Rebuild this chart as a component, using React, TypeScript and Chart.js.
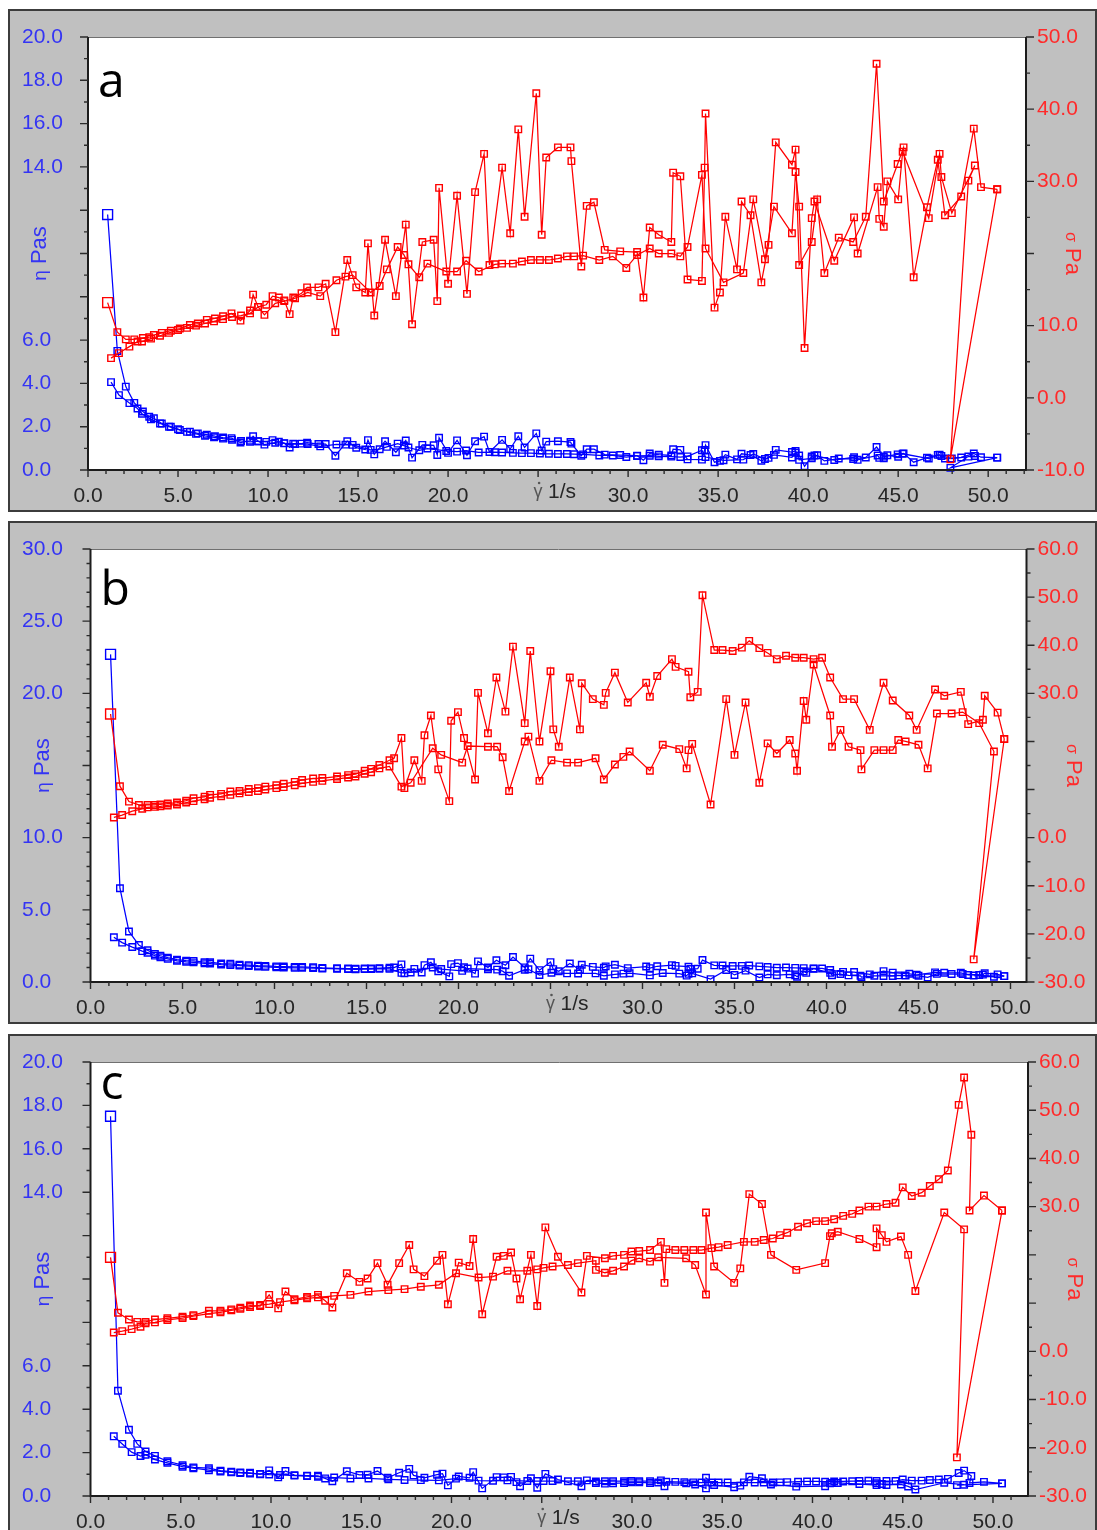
import React, { useEffect, useRef } from 'react';
import { Chart, registerables } from 'chart.js';
Chart.register(...registerables);

// ---------------- Panel a ----------------
const A_UP_X = [1.09,1.63,2.1,2.57,3.05,3.4,3.66,4.1,4.6,5.1, 5.66,6.1,6.6,7.05,7.5,7.97,8.47,9.0,9.17,9.45, 9.9,10.25,10.6,10.9,11.2,11.4,11.86,12.17,12.8,13.2, 13.74,14.4,14.9,15.4,15.55,15.9,16.5,17.1,17.65,18.0, 18.57,19.2,19.4,19.5,20.0,20.5,21.05,21.5,22.0,22.3, 23.0,23.45,23.9,24.25,24.9,25.2,25.45,26.1,26.8,26.85, 27.4,27.7,28.1,28.7,29.56,30.5,30.85,31.2,31.7,32.4, 32.5,32.9,33.3,34.1,34.25,34.3,34.8,35.1,35.4,36.05, 36.3,36.8,37.4,37.8,38.2,39.1,39.3,39.5,40.2,40.5, 40.9,41.7,42.5,43.2,43.8,44.2,44.97,45.3,45.86,46.6, 47.2,47.6,48.5,49.2,49.6,50.5];
const A_UP_SIGMA = [13.2,9.1,8.1,8.1,8.3,8.4,8.7,9.0,9.3,9.6, 10.1,10.3,10.8,11.0,11.3,11.7,10.7,12.1,14.3,12.6, 12.9,14.1,13.9,13.5,11.6,13.9,14.5,15.3,15.3,15.8, 9.1,19.1,15.3,14.6,21.4,11.4,21.9,14.1,24.0,10.2, 21.6,21.9,13.4,29.1,15.8,28.0,14.4,28.5,33.8,18.4, 31.9,22.8,37.2,25.1,42.2,22.6,33.3,34.7,34.7,32.8, 18.2,26.6,27.1,20.5,20.3,20.2,13.9,23.6,22.6,21.6, 31.2,30.7,16.4,16.2,31.9,39.4,12.5,14.6,25.1,17.8, 27.2,25.3,16.0,21.2,35.4,32.3,34.4,18.4,21.6,27.5, 17.3,22.2,21.6,25.1,46.3,27.2,32.4,34.7,16.7,26.4, 33.0,25.3,27.9,37.3,29.2,28.9];
const A_UP_ETA = [11.8,5.5,3.85,3.1,2.7,2.46,2.39,2.15,2.0,1.85, 1.77,1.69,1.63,1.56,1.5,1.47,1.27,1.35,1.56,1.33, 1.3,1.38,1.31,1.24,1.04,1.22,1.22,1.26,1.2,1.2, 0.66,1.33,1.03,0.95,1.38,0.72,1.33,0.82,1.36,0.57, 1.16,1.14,0.69,1.49,0.79,1.37,0.68,1.33,1.54,0.83, 1.39,0.97,1.56,1.04,1.69,0.9,1.31,1.33,1.29,1.22, 0.66,0.96,0.96,0.71,0.69,0.66,0.45,0.76,0.71,0.67, 0.96,0.93,0.49,0.48,0.93,1.15,0.36,0.42,0.71,0.49, 0.75,0.69,0.43,0.56,0.93,0.83,0.88,0.47,0.54,0.68, 0.42,0.53,0.51,0.58,1.06,0.62,0.72,0.77,0.36,0.57, 0.7,0.53,0.58,0.76,0.59,0.57];
const A_DN_X = [50.5,47.9,48.9,49.26,47.98,47.4,47.3,46.7,45.25,45.0, 44.4,44.2,43.95,43.86,42.75,42.55,41.45,40.35,40.2,39.8, 39.5,39.3,39.1,38.1,37.6,36.95,36.4,35.3,34.3,34.1, 33.3,32.9,32.4,31.7,31.2,30.5,29.9,29.15,28.4,27.5, 27.0,26.6,26.1,25.6,25.1,24.6,24.1,23.6,23.0,22.6, 21.7,21.0,20.5,19.9,18.85,18.4,17.8,17.55,17.2,16.6, 16.2,15.7,14.7,14.3,13.8,12.9,12.2,11.5,10.9,10.4, 9.8,9.45,9.0,8.5,8.0,7.5,7.0,6.5,6.0,5.5, 5.0,4.5,4.0,3.5,3.0,2.75,2.3,1.72,1.28];
const A_DN_SIGMA = [28.9,-8.5,30.1,32.2,25.6,30.6,33.8,24.9,34.1,27.5, 30.0,23.7,24.8,29.2,20.0,25.0,19.0,27.2,24.9,6.9, 26.5,31.3,22.8,26.5,19.2,27.5,17.3,16.0,20.7,30.9, 20.9,19.6,20.0,20.0,20.7,19.8,18.0,19.6,19.1,19.7, 19.6,19.6,19.3,19.1,19.1,19.1,18.9,18.6,18.6,18.5, 17.5,19.0,17.5,17.5,18.6,16.7,18.5,19.8,20.9,17.8, 15.5,14.6,17.0,16.8,16.3,14.1,14.6,13.8,13.4,13.1, 11.5,12.6,11.7,11.4,11.2,10.9,10.6,10.3,10.0,9.7, 9.4,9.0,8.6,8.2,7.8,7.8,7.1,6.2,5.5];
const A_DN_ETA = [0.57,0.1,0.62,0.65,0.53,0.65,0.71,0.53,0.75,0.61, 0.68,0.54,0.56,0.67,0.47,0.59,0.46,0.67,0.62,0.17, 0.67,0.8,0.58,0.7,0.51,0.74,0.48,0.45,0.6,0.91, 0.63,0.6,0.62,0.63,0.66,0.65,0.6,0.67,0.67,0.72, 0.73,0.74,0.74,0.75,0.76,0.78,0.78,0.79,0.81,0.82, 0.81,0.9,0.85,0.88,0.99,0.91,1.04,1.13,1.22,1.07, 0.96,0.93,1.16,1.17,1.18,1.09,1.2,1.2,1.23,1.26, 1.17,1.33,1.3,1.34,1.4,1.45,1.51,1.58,1.67,1.76, 1.88,2.0,2.15,2.34,2.6,2.84,3.09,3.46,4.06];

// ---------------- Panel b ----------------
const B_UP_X = [1.09,1.6,2.09,2.63,3.1,3.5,3.8,4.2,4.7,5.2, 5.6,6.2,6.5,7.1,7.6,8.1,8.6,9.1,9.5,10.1, 10.5,11.1,11.5,12.1,12.6,13.4,14.0,14.4,14.9,15.25, 15.7,16.25,16.5,16.9,17.06,17.6,18.0,18.15,18.5,18.9, 19.5,19.6,19.97,20.3,20.9,21.06,21.6,22.06,22.55,22.96, 23.6,23.9,24.4,25.0,25.15,25.45,26.05,26.6,26.7,27.3, 27.9,28.0,28.5,29.2,30.2,30.4,30.8,31.6,31.8,32.5, 32.6,33.0,33.26,33.9,34.35,34.9,35.4,35.8,36.35,36.8, 37.3,37.8,38.3,38.76,39.3,39.76,40.2,40.9,41.5,42.35, 43.1,43.6,44.5,44.9,45.9,46.4,47.3,47.7,48.5,48.6, 49.3,49.66];
const B_UP_SIGMA = [25.7,10.7,7.5,6.8,6.8,6.8,6.9,7.1,7.3,7.7, 8.2,8.5,8.9,9.1,9.6,9.7,10.1,10.3,10.6,10.9, 11.2,11.6,12.0,12.3,12.4,12.7,13.0,13.2,13.9,14.3, 15.1,16.1,16.5,20.7,10.3,16.1,11.8,21.3,25.4,14.2, 7.6,24.3,26.1,20.7,12.1,30.1,21.7,33.3,26.2,39.7, 23.8,38.8,20.0,34.6,22.5,18.9,33.3,22.5,32.1,28.8, 27.6,30.1,34.3,28.1,32.2,29.3,33.6,37.1,35.5,34.5, 29.2,30.3,50.4,39.0,39.0,38.8,39.5,40.9,39.4,38.4, 37.1,37.8,37.4,37.4,37.1,37.4,33.3,28.8,28.8,22.4, 32.2,28.5,25.4,22.4,30.8,29.5,30.3,23.6,24.5,29.5, 26.0,20.5];
const B_UP_ETA = [22.7,6.5,3.5,2.56,2.2,1.94,1.82,1.69,1.55,1.48, 1.46,1.37,1.37,1.28,1.26,1.2,1.17,1.13,1.12,1.08, 1.07,1.05,1.04,1.02,0.98,0.95,0.93,0.92,0.93,0.94, 0.96,0.99,1.0,1.22,0.6,0.91,0.66,1.17,1.37,0.75, 0.39,1.24,1.31,1.02,0.58,1.43,1.0,1.51,1.16,1.73, 1.01,1.62,0.82,1.38,0.89,0.74,1.28,0.85,1.2,1.05, 0.99,1.08,1.2,0.96,1.07,0.96,1.09,1.17,1.12,1.06, 0.9,0.92,1.52,1.15,1.14,1.11,1.12,1.14,1.08,1.04, 0.99,1.0,0.98,0.96,0.94,0.94,0.83,0.7,0.69,0.53, 0.75,0.65,0.57,0.5,0.67,0.64,0.64,0.49,0.51,0.61, 0.53,0.41];
const B_DN_X = [49.66,48.0,49.1,48.3,47.4,46.8,46.0,45.5,45.0,44.3, 43.9,43.6,43.1,42.6,41.9,41.85,41.2,40.76,40.3,40.2, 39.3,38.9,38.76,38.4,38.3,38.0,37.3,36.8,36.35,35.6, 35.0,34.55,33.7,32.7,32.5,32.4,32.0,31.1,30.4,29.3, 28.96,28.5,27.9,27.45,26.5,25.9,25.05,24.4,23.8,23.6, 22.75,22.4,22.1,21.6,20.5,20.2,19.06,18.6,17.4,16.9, 16.25,15.7,15.25,14.9,14.4,14.0,13.4,12.6,12.1,11.5, 11.1,10.5,10.1,9.5,9.1,8.6,8.1,7.6,7.1,6.5, 6.2,5.6,5.2,4.7,4.2,3.8,3.5,3.1,2.81,2.27, 1.72,1.27];
const B_DN_SIGMA = [20.5,-25.3,17.9,23.8,26.1,25.8,25.8,14.4,19.3,20.0, 20.3,18.2,18.2,18.2,14.2,18.2,18.9,22.4,18.9,25.4, 36.0,24.5,28.4,13.9,17.5,20.3,17.5,19.6,11.4,28.1, 17.2,28.8,6.9,19.5,18.2,14.4,18.4,19.3,13.9,17.9, 16.8,15.2,12.1,16.5,15.6,15.6,16.1,11.8,21.0,20.0, 9.7,16.7,18.9,18.9,19.05,15.6,17.2,18.6,11.4,10.6, 14.8,14.4,13.6,13.3,12.7,12.5,12.2,11.8,11.6,11.3, 10.9,10.5,10.3,10.0,9.7,9.5,9.2,8.9,8.6,8.3, 8.0,7.6,7.3,6.9,6.7,6.5,6.4,6.3,6.0,5.5, 4.7,4.2];
const B_DN_ETA = [0.41,0.45,0.36,0.49,0.55,0.55,0.56,0.32,0.43,0.45, 0.46,0.42,0.42,0.43,0.34,0.43,0.46,0.55,0.47,0.63, 0.92,0.63,0.73,0.36,0.46,0.53,0.47,0.53,0.31,0.79, 0.49,0.83,0.2,0.6,0.56,0.44,0.58,0.62,0.46,0.61, 0.58,0.53,0.43,0.6,0.59,0.6,0.64,0.48,0.88,0.85, 0.43,0.75,0.86,0.88,0.93,0.77,0.9,1.0,0.66,0.63, 0.91,0.92,0.89,0.89,0.88,0.89,0.91,0.94,0.96,0.98, 0.98,1.0,1.02,1.05,1.07,1.1,1.14,1.17,1.21,1.28, 1.29,1.36,1.4,1.47,1.6,1.71,1.83,2.03,2.14,2.42, 2.73,3.1];

// ---------------- Panel c ----------------
const C_UP_X = [1.11,1.52,2.13,2.59,3.05,3.57,4.26,5.1,5.7,6.56, 7.2,7.8,8.3,8.84,9.4,9.9,10.4,10.8,11.3,12.0, 12.6,13.0,13.4,14.2,14.9,15.35,15.9,16.46,17.1,17.66, 17.9,18.5,19.2,19.5,19.8,20.4,21.0,21.2,21.7,22.5, 22.9,23.3,23.6,23.8,24.4,24.75,25.2,25.9,27.2,27.5, 28.5,28.95,29.56,29.97,30.4,31.0,31.6,31.8,31.9,32.4, 32.9,33.4,33.85,34.4,34.8,35.3,36.2,36.8,37.3,37.8, 38.2,38.6,39.2,39.7,40.2,40.7,41.2,41.7,42.2,42.6, 43.1,43.55,44.1,44.6,45.0,45.5,46.05,46.5,47.0,47.5, 48.1,48.4,48.8,48.7,49.5,50.5];
const C_UP_SIGMA = [19.5,8.0,6.6,6.1,6.1,6.6,6.85,7.2,7.5,8.4, 8.4,8.7,9.05,9.5,9.4,11.7,8.9,12.4,10.8,11.3, 11.7,10.5,9.1,16.2,14.4,15.1,18.3,13.8,18.3,22.05, 17.0,15.6,18.8,20.0,9.75,18.4,17.7,23.3,7.7,19.6, 19.8,20.5,15.1,10.8,20.0,9.4,25.7,19.6,12.2,19.8, 19.3,19.8,20.0,20.7,20.8,21.0,22.7,14.2,21.2,21.0, 21.0,21.0,21.0,21.4,21.6,22.05,22.7,22.7,23.1,23.4, 24.1,24.6,25.85,26.55,27.0,27.0,27.4,28.1,28.5,29.2, 30.0,30.0,30.55,30.8,34.0,32.2,32.9,34.3,35.7,37.5, 51.1,56.8,44.9,29.2,32.3,29.2];
const C_UP_ETA = [17.5,4.85,3.05,2.4,2.05,1.85,1.6,1.42,1.32,1.28, 1.17,1.12,1.09,1.07,1.0,1.18,0.86,1.15,0.96,0.94, 0.93,0.81,0.68,1.14,0.97,0.98,1.15,0.84,1.07,1.25, 0.95,0.84,0.98,1.03,0.49,0.9,0.84,1.1,0.35,0.87, 0.86,0.88,0.64,0.45,0.82,0.38,1.02,0.76,0.45,0.72, 0.68,0.68,0.68,0.69,0.68,0.68,0.72,0.45,0.66,0.65, 0.64,0.63,0.62,0.62,0.62,0.62,0.63,0.62,0.62,0.62, 0.63,0.64,0.66,0.67,0.67,0.66,0.67,0.67,0.68,0.69, 0.7,0.69,0.69,0.69,0.76,0.71,0.71,0.74,0.76,0.79, 1.06,1.17,0.92,0.6,0.65,0.58];
const C_DN_X = [50.5,48.0,48.4,47.3,45.7,45.3,44.9,44.1,43.84,43.55, 43.55,42.6,41.4,41.07,40.97,40.7,39.1,37.7,37.2,36.5, 36.0,35.66,34.55,34.1,34.1,33.5,33.0,31.45,31.0,30.4, 29.97,29.56,28.95,28.5,28.0,28.0,27.0,26.45,25.6,25.1, 24.75,24.2,23.1,22.3,21.5,20.25,19.3,18.3,17.4,16.5, 15.4,14.4,13.5,12.6,12.0,11.3,10.5,9.9,9.4,8.84, 8.3,7.8,7.2,6.56,5.7,5.1,4.26,3.57,3.05,2.77, 2.28,1.76,1.29];
const C_DN_SIGMA = [29.2,-22.0,25.3,28.8,12.5,20.0,23.8,22.7,24.1,25.5, 21.6,23.3,24.8,24.5,23.9,18.3,16.9,20.0,30.55,32.6, 17.2,14.2,17.6,28.8,11.8,17.9,19.3,19.5,18.6,19.3, 18.8,17.6,16.7,16.3,16.9,18.8,18.3,17.9,17.6,17.3, 17.0,16.7,16.7,15.5,15.3,16.2,13.8,13.4,12.9,12.7, 12.4,11.7,11.5,11.2,11.0,10.6,10.2,9.8,9.6,9.2, 8.8,8.5,8.1,7.8,7.3,6.9,6.5,6.0,5.8,5.1, 4.6,4.2,3.9];
const C_DN_ETA = [0.58,0.5,0.52,0.61,0.3,0.44,0.53,0.51,0.55,0.59, 0.5,0.55,0.6,0.6,0.58,0.45,0.43,0.53,0.82,0.89, 0.48,0.4,0.51,0.84,0.35,0.53,0.58,0.62,0.6,0.63, 0.63,0.6,0.58,0.57,0.6,0.67,0.68,0.68,0.69,0.69, 0.69,0.69,0.72,0.7,0.71,0.8,0.72,0.73,0.74,0.77, 0.81,0.81,0.85,0.89,0.92,0.94,0.97,0.99,1.02,1.04, 1.06,1.09,1.13,1.19,1.28,1.35,1.53,1.68,1.9,1.84, 2.02,2.4,2.75];

// axis label texts
const X_TITLE = '1/s';
const ETA_TITLE = ' Pas';
const SIGMA_TITLE = ' Pa';

const FONT = '"Liberation Sans", Arial, sans-serif';
const BLUE_TXT = '#3434f4';
const RED_TXT = '#ff2a2a';
const DARK_TXT = '#262626';

type Cfg = any;

const PANELS: Cfg[] = [
  { key: 'a', letter: 'a', letterDy: 60, top: 9, xMax: 52.1, leftW: 66, rightW: 69, xH: 40,
    etaMax: 20, etaMajor: 2, etaHide: [8, 10, 12], etaTitleAt: 10,
    sigMin: -10, sigMax: 50, sigHide: [20], sigTitleAt: 20,
    up: [A_UP_X, A_UP_SIGMA, A_UP_ETA], dn: [A_DN_X, A_DN_SIGMA, A_DN_ETA] },
  { key: 'b', letter: 'b', letterDy: 56, top: 521, xMax: 50.87, leftW: 68.5, rightW: 68.5, xH: 40,
    etaMax: 30, etaMajor: 5, etaHide: [15], etaTitleAt: 15,
    sigMin: -30, sigMax: 60, sigHide: [10, 20], sigTitleAt: 15,
    up: [B_UP_X, B_UP_SIGMA, B_UP_ETA], dn: [B_DN_X, B_DN_SIGMA, B_DN_ETA] },
  { key: 'c', letter: 'c', letterDy: 37, top: 1034, xMax: 51.94, leftW: 68.5, rightW: 67, xH: 39,
    etaMax: 20, etaMajor: 2, etaHide: [8, 10, 12], etaTitleAt: 10,
    sigMin: -30, sigMax: 60, sigHide: [10, 20], sigTitleAt: 15,
    up: [C_UP_X, C_UP_SIGMA, C_UP_ETA], dn: [C_DN_X, C_DN_SIGMA, C_DN_ETA] },
];

const CW = 1085;
const CH = 499;

function series(xs: number[], ys: number[], color: string, axis: string, bigFirst: boolean) {
  return {
    data: xs.map((x, i) => ({ x, y: ys[i] })),
    yAxisID: axis,
    showLine: true,
    borderColor: color,
    borderWidth: 1.25,
    pointStyle: 'rect',
    pointRadius: xs.map((_, i) => (bigFirst && i === 0 ? 7 : 4.6)),
    pointHoverRadius: 4.6,
    pointBorderColor: color,
    pointBackgroundColor: 'rgba(255,255,255,0)',
    pointBorderWidth: 1.4,
    tension: 0,
    clip: 8,
  };
}

function drawRot(ctx: any, cx: number, cy: number, ang: number, parts: any[], color: string) {
  ctx.save();
  ctx.translate(cx, cy);
  ctx.rotate(ang);
  ctx.fillStyle = color;
  ctx.textAlign = 'left';
  ctx.textBaseline = 'alphabetic';
  const ws = parts.map((p) => { ctx.font = p.font; return ctx.measureText(p.text).width; });
  let x = -ws.reduce((s, w) => s + w, 0) / 2;
  parts.forEach((p, i) => { ctx.font = p.font; ctx.fillText(p.text, x, 8); x += ws[i]; });
  ctx.restore();
}

function Panel({ cfg }: { cfg: Cfg }) {
  const ref = useRef<HTMLCanvasElement>(null);
  useEffect(() => {
    const canvas = ref.current as HTMLCanvasElement;
    const near = (v: number, arr: number[]) => arr.some((h) => Math.abs(h - v) < 1e-6);
    const deco = {
      id: 'deco' + cfg.key,
      beforeDraw(chart: any) {
        const { ctx, chartArea: a } = chart;
        ctx.save();
        ctx.fillStyle = '#ffffff';
        ctx.fillRect(a.left, a.top, a.right - a.left, a.bottom - a.top);
        ctx.restore();
      },
      afterDraw(chart: any) {
        const { ctx, chartArea: a, scales } = chart;
        const xs = scales.x, yl = scales.y, yr = scales.y1;
        ctx.save();
        ctx.strokeStyle = '#707070';
        ctx.lineWidth = 1;
        ctx.beginPath();
        ctx.moveTo(a.left, a.top + 0.5);
        ctx.lineTo(a.right, a.top + 0.5);
        ctx.stroke();
        ctx.strokeStyle = '#1c1c1c';
        ctx.lineWidth = 2;
        ctx.beginPath();
        ctx.moveTo(a.left, a.top);
        ctx.lineTo(a.left, a.bottom + 1);
        ctx.moveTo(a.left - 1, a.bottom);
        ctx.lineTo(a.right + 1, a.bottom);
        ctx.moveTo(a.right, a.top);
        ctx.lineTo(a.right, a.bottom + 1);
        ctx.stroke();
        ctx.lineWidth = 1.4;
        ctx.strokeStyle = '#2a2a2a';
        ctx.beginPath();
        for (let v = 0; v <= cfg.xMax + 1e-6; v += 1) {
          const p = xs.getPixelForValue(v);
          const len = v % 5 === 0 ? 7 : 4;
          ctx.moveTo(p, a.bottom);
          ctx.lineTo(p, a.bottom + len);
        }
        for (let v = 0; v <= cfg.etaMax + 1e-6; v += 1) {
          const p = yl.getPixelForValue(v);
          const len = v % cfg.etaMajor === 0 ? 8 : 4;
          ctx.moveTo(a.left, p);
          ctx.lineTo(a.left - len, p);
        }
        for (let v = cfg.sigMin; v <= cfg.sigMax + 1e-6; v += 5) {
          const p = yr.getPixelForValue(v);
          const len = v % 10 === 0 ? 8 : 4;
          ctx.moveTo(a.right, p);
          ctx.lineTo(a.right + len, p);
        }
        ctx.stroke();

        // x title
        const x25 = xs.getPixelForValue(25);
        ctx.fillStyle = DARK_TXT;
        ctx.font = '21px ' + FONT;
        ctx.textAlign = 'left';
        ctx.textBaseline = 'alphabetic';
        ctx.fillText(X_TITLE, x25 + 10, a.bottom + 28);
        ctx.fillStyle = '#555';
        ctx.font = '18px ' + FONT;
        ctx.textAlign = 'center';
        ctx.fillText('γ', x25, a.bottom + 27);
        ctx.beginPath();
        ctx.arc(x25 + 1, a.bottom + 13, 1.3, 0, Math.PI * 2);
        ctx.fill();

        // y titles
        drawRot(ctx, a.left - 50, yl.getPixelForValue(cfg.etaTitleAt), -Math.PI / 2,
          [{ text: 'η', font: '19px ' + FONT }, { text: ETA_TITLE, font: '22px ' + FONT }], BLUE_TXT);
        drawRot(ctx, a.right + 48, yr.getPixelForValue(cfg.sigTitleAt), Math.PI / 2,
          [{ text: 'σ', font: '16px ' + FONT }, { text: SIGMA_TITLE, font: '22px ' + FONT }], RED_TXT);

        // panel letter
        ctx.fillStyle = '#000';
        ctx.font = '48px "Open Sans", "Noto Sans", sans-serif';
        ctx.textAlign = 'left';
        ctx.textBaseline = 'alphabetic';
        ctx.fillText(cfg.letter, a.left + 10, a.top + cfg.letterDy);
        ctx.restore();
      },
    };

    const tickFont = { family: FONT, size: 21 };
    const chart = new Chart(canvas, {
      type: 'scatter',
      data: {
        datasets: [
          series(cfg.up[0], cfg.up[1], '#ff0000', 'y1', true),
          series(cfg.dn[0], cfg.dn[1], '#ff0000', 'y1', false),
          series(cfg.up[0], cfg.up[2], '#0000ff', 'y', true),
          series(cfg.dn[0], cfg.dn[2], '#0000ff', 'y', false),
        ] as any,
      },
      options: {
        responsive: false,
        maintainAspectRatio: false,
        animation: false,
        devicePixelRatio: 1,
        events: [],
        layout: { padding: { top: 26, left: 12, right: 0, bottom: 0 } },
        plugins: { legend: { display: false }, tooltip: { enabled: false } },
        scales: {
          x: {
            type: 'linear', position: 'bottom', min: 0, max: cfg.xMax,
            grid: { display: false, drawTicks: false }, border: { display: false },
            afterFit: (s: any) => { s.height = cfg.xH; },
            ticks: {
              stepSize: 5, autoSkip: false, maxRotation: 0, minRotation: 0, includeBounds: false,
              padding: 14, color: DARK_TXT, font: tickFont,
              callback: (v: any) => (Math.abs(v - 25) < 1e-6 ? '' : Number(v).toFixed(1)),
            },
          },
          y: {
            type: 'linear', position: 'left', min: 0, max: cfg.etaMax,
            grid: { display: false, drawTicks: false }, border: { display: false },
            afterFit: (s: any) => { s.width = cfg.leftW; },
            ticks: {
              stepSize: cfg.etaMajor, autoSkip: false, crossAlign: 'far', padding: 0,
              color: BLUE_TXT, font: tickFont,
              callback: (v: any) => (near(v, cfg.etaHide) ? '' : Number(v).toFixed(1)),
            },
          },
          y1: {
            type: 'linear', position: 'right', min: cfg.sigMin, max: cfg.sigMax,
            grid: { display: false, drawTicks: false }, border: { display: false },
            afterFit: (s: any) => { s.width = cfg.rightW; },
            ticks: {
              stepSize: 10, autoSkip: false, padding: 11,
              color: RED_TXT, font: tickFont,
              callback: (v: any) => (near(v, cfg.sigHide) ? '' : Number(v).toFixed(1)),
            },
          },
        },
      } as any,
      plugins: [deco],
    });
    return () => chart.destroy();
  }, [cfg]);

  return (
    <div style={{
      position: 'absolute', left: 8, top: cfg.top, width: 1089, height: 503,
      boxSizing: 'border-box', border: '2px solid #3c3c3c', background: '#c0c0c0',
    }}>
      <canvas ref={ref} width={CW} height={CH} style={{ display: 'block', width: CW, height: CH }} />
    </div>
  );
}

export default function App() {
  return (
    <div style={{ position: 'relative', width: 1097, height: 1530, overflow: 'hidden', background: '#fff' }}>
      <style>{'html,body{margin:0;padding:0;overflow:hidden;background:#fff}'}</style>
      {PANELS.map((p) => <Panel key={p.key} cfg={p} />)}
    </div>
  );
}
